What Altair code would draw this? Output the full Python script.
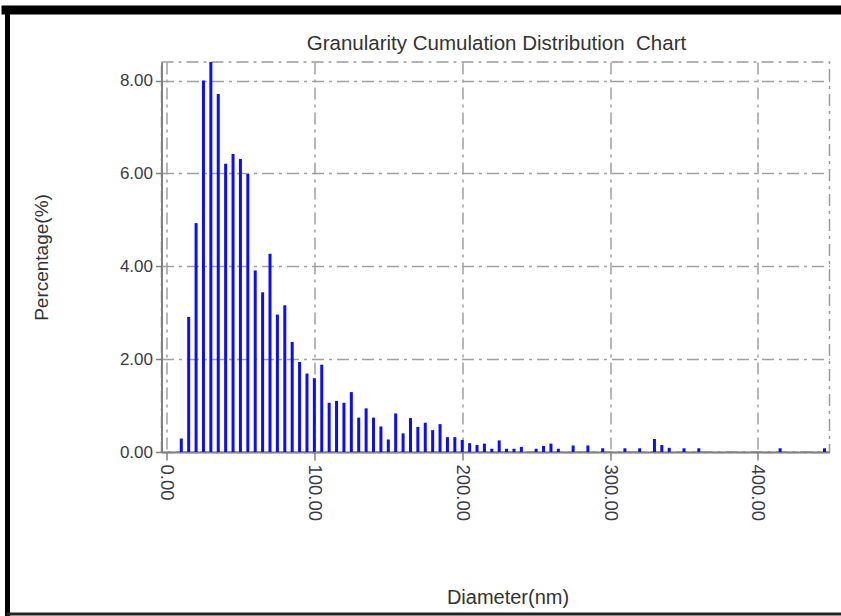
import altair as alt
import pandas as pd

# Particle diameter classes (nm) and their share of the population (%)
diameters = [10, 15, 20, 25, 30, 35, 40, 45, 50, 55, 60, 65, 70, 75, 80, 85, 90, 95,
             100, 105, 110, 115, 120, 125, 130, 135, 140, 145, 150, 155, 160, 165,
             170, 175, 180, 185, 190, 195, 200, 205, 210, 215, 220, 225, 230, 235,
             240, 250, 255, 260, 265, 275, 285, 295, 310, 320, 330, 335, 340, 350,
             360, 415, 445]
percentages = [0.29, 2.91, 4.93, 8.00, 8.40, 7.71, 6.21, 6.42, 6.31, 5.99, 3.91, 3.44,
               4.27, 2.96, 3.16, 2.37, 1.94, 1.69, 1.59, 1.88, 1.06, 1.10, 1.06, 1.29,
               0.74, 0.94, 0.74, 0.55, 0.27, 0.83, 0.40, 0.73, 0.54, 0.63, 0.47, 0.60,
               0.32, 0.32, 0.26, 0.19, 0.15, 0.18, 0.07, 0.25, 0.07, 0.07, 0.11, 0.07,
               0.13, 0.18, 0.07, 0.14, 0.14, 0.08, 0.08, 0.08, 0.28, 0.15, 0.09, 0.08,
               0.08, 0.08, 0.08]

x_ticks = [0, 100, 200, 300, 400]
y_ticks = [0, 2, 4, 6, 8]
x_max = 445
y_max = 8.4
chart_title = "Granularity Cumulation Distribution\u00a0 Chart"

df = pd.DataFrame({"diameter": diameters, "percentage": percentages})

FONT = "Liberation Sans"
GRID_DASH = [12, 5, 3, 5]
PLOT_W, PLOT_H = 668, 390

bars = alt.Chart(df).mark_bar(size=3, color="#0c0cff").encode(
    x=alt.X(
        "diameter:Q",
        scale=alt.Scale(domain=[0, x_max], nice=False, zero=True),
        axis=alt.Axis(
            values=x_ticks, format=".2f", labelAngle=90, labelFontSize=18.5,
            labelPadding=4, tickSize=8, title="Diameter(nm)",
            titleX=346, titleY=145, titleFontSize=20, titleFontWeight="normal",
            titleBaseline="middle", titleAlign="center",
            grid=True,
        ),
    ),
    y=alt.Y(
        "percentage:Q",
        scale=alt.Scale(domain=[0, y_max], nice=False),
        axis=alt.Axis(
            values=y_ticks, format=".2f", labelFontSize=17, labelPadding=3,
            tickSize=6, title="Percentage(%)", titleX=-120, titleY=PLOT_H / 2,
            titleAngle=270, titleFontSize=19, titleFontWeight="normal",
            titleBaseline="middle", titleAlign="center",
            grid=True,
        ),
    ),
)

one_row = pd.DataFrame({"k": [0]})

# Chart heading, placed inside the outer frame above the plot
heading = alt.Chart(one_row).mark_text(
    fontSize=20.5, font=FONT, color="#333333", align="center", baseline="middle",
).encode(x=alt.value(335), y=alt.value(-18), text=alt.value(chart_title))

# Outer black frame around the whole figure
frame_top = alt.Chart(one_row).mark_rule(color="black", strokeWidth=9).encode(
    x=alt.value(-160), x2=alt.value(700), y=alt.value(-52))
frame_left = alt.Chart(one_row).mark_rule(color="black", strokeWidth=5).encode(
    x=alt.value(-154), y=alt.value(-54), y2=alt.value(560))
frame_bottom = alt.Chart(one_row).mark_rule(color="#222", strokeWidth=3).encode(
    x=alt.value(-155), x2=alt.value(700), y=alt.value(552))

chart = alt.layer(bars, heading, frame_top, frame_left, frame_bottom).properties(
    width=PLOT_W,
    height=PLOT_H,
    padding={"left": 161.5, "top": 62, "right": 11.5, "bottom": 164},
    autosize=alt.AutoSizeParams(type="none"),
).configure(
    font=FONT,
).configure_view(
    stroke="#9a9a9a", strokeWidth=1.5, strokeDash=GRID_DASH,
).configure_axis(
    domainColor="#808080", domainWidth=2, tickColor="#808080", tickWidth=1.5,
    gridColor="#a0a0a0", gridWidth=1.5, gridDash=GRID_DASH,
    labelColor="#3a3a48", titleColor="#333333", labelFont=FONT, titleFont=FONT,
)

chart.save("out.html", embed_options={"renderer": "svg", "actions": False})
